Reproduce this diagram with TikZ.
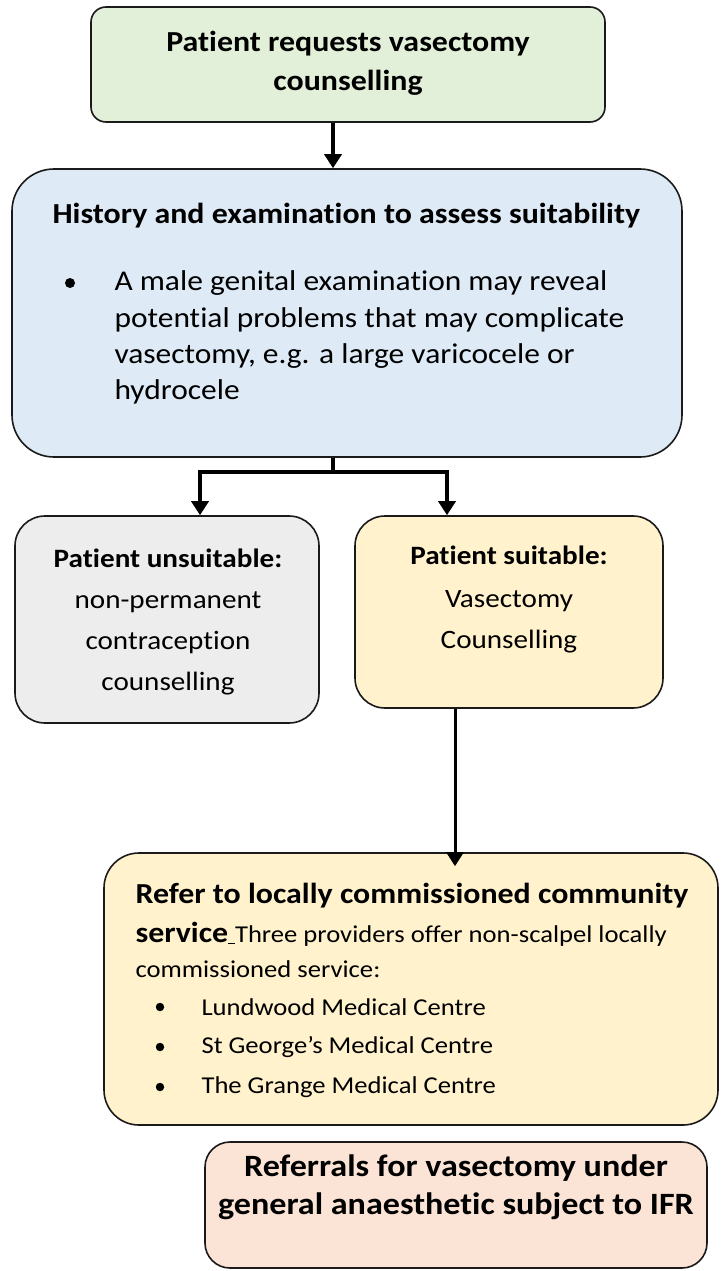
\documentclass[tikz,border=0pt]{standalone}
\usepackage{fontspec}
\setmainfont{Carlito}[FakeStretch=1.1, Ligatures=NoCommon]
\usetikzlibrary{arrows.meta}
\definecolor{cgreen}{HTML}{E2EFD9}
\definecolor{cblue}{HTML}{DEEAF6}
\definecolor{cgray}{HTML}{EDEDED}
\definecolor{cyellow}{HTML}{FFF2CC}
\definecolor{cpink}{HTML}{FBE4D5}
\definecolor{cline}{HTML}{1A1A1A}
\newcommand{\fs}[1]{\fontsize{#1}{#1}\selectfont}
\begin{document}
\begin{tikzpicture}[x=1pt,y=-1pt,
  box/.style={draw=cline, line width=1.6pt, inner sep=0pt},
  conn/.style={draw=black, line width=4pt, line join=miter},
  arr/.style={conn, -{Triangle[length=14pt,width=17pt]}},
  ttl/.style={anchor=base, font=\bfseries\fs{29}},
  txt/.style={anchor=base, font=\fs{26.5}},
  lst/.style={anchor=base west, font=\fs{24.2}},
  bul/.style={fill=black, circle, inner sep=0pt, minimum size=10pt}]
\useasboundingbox (0,0) rectangle (720,1271);
\clip (0,0) rectangle (720,1271);
\fill[white] (0,0) rectangle (720,1271);
% boxes
\node[box, fill=cgreen, rounded corners=15pt, minimum width=514pt, minimum height=115pt] (g) at (348,64.5) {};
\node[box, fill=cblue, rounded corners=42pt, minimum width=670pt, minimum height=288pt] (b) at (347,313) {};
\node[box, fill=cgray, rounded corners=30pt, minimum width=304pt, minimum height=207pt] (u) at (167,619.5) {};
\node[box, fill=cyellow, rounded corners=30pt, minimum width=308pt, minimum height=192pt] (s) at (509,612) {};
\node[box, fill=cyellow, rounded corners=35pt, minimum width=614pt, minimum height=272pt] (r) at (411,989) {};
\node[box, fill=cpink, rounded corners=25pt, minimum width=502pt, minimum height=126pt] (p) at (456,1205) {};
% connector coordinates
\coordinate (xa) at (333,0);
\coordinate (xl) at (200,0);
\coordinate (xr) at (447,0);
\coordinate (xd) at (455,0);
\coordinate (j) at (333,472);
\draw[arr] (g.south -| xa) -- (b.north -| xa);
\draw[conn] (b.south -| xa) -- (j);
\draw[arr] (j) -| (u.north -| xl);
\draw[arr] (j) -| (s.north -| xr);
\draw[arr, line width=3pt, shorten >=-14pt] (s.south -| xd) -- (r.north -| xd);
% texts
\node[ttl] (g1) at (348,52) {Patient requests vasectomy};
\node[ttl] (g2) at (348,91) {counselling};
\node[ttl, anchor=base west] (b1) at (49,223) {History and examination to assess suitability};
\node[bul] (bb) at (70,283) {};
\node[txt, anchor=base west, font=\fs{28.6}] (b2) at (111,290) {A male genital examination may reveal};
\node[txt, anchor=base west, font=\fs{28.6}] (b3) at (111,327) {potential problems that may complicate};
\node[txt, anchor=base west, font=\fs{28.6}] (b4) at (111,363) {vasectomy, e.g. a large varicocele or};
\node[txt, anchor=base west, font=\fs{28.6}] (b5) at (111,399) {hydrocele};
\node[ttl, font=\bfseries\fs{26.5}] (u1) at (168,567) {Patient unsuitable:};
\node[txt] (u2) at (168,608.5) {non-permanent};
\node[txt] (u3) at (168,649) {contraception};
\node[txt] (u4) at (168,690) {counselling};
\node[ttl, font=\bfseries\fs{26.5}] (s1) at (509,564) {Patient suitable:};
\node[txt] (s2) at (509,607) {Vasectomy};
\node[txt] (s3) at (509,648) {Counselling};
\node[ttl, anchor=base west] (r1) at (132,903) {Refer to locally commissioned community};
\node[lst] (r2) at (132,942) {{\bfseries\fs{29}service}\underline{\hspace{0.28em}}Three providers offer non-scalpel locally};
\node[lst] (r3) at (132,977) {commissioned service:};
\node[bul, minimum size=8.5pt] (rb1) at (160,1007) {};
\node[bul, minimum size=8.5pt] (rb2) at (160,1047) {};
\node[bul, minimum size=8.5pt] (rb3) at (160,1087) {};
\node[lst] (r4) at (198,1015) {Lundwood Medical Centre};
\node[lst] (r5) at (198,1053) {St George’s Medical Centre};
\node[lst] (r6) at (198,1093) {The Grange Medical Centre};
\node[ttl, font=\bfseries\fs{31}] (p1) at (456,1176) {Referrals for vasectomy under};
\node[ttl, font=\bfseries\fs{31}] (p2) at (456,1214) {general anaesthetic subject to IFR};
\end{tikzpicture}
\end{document}
